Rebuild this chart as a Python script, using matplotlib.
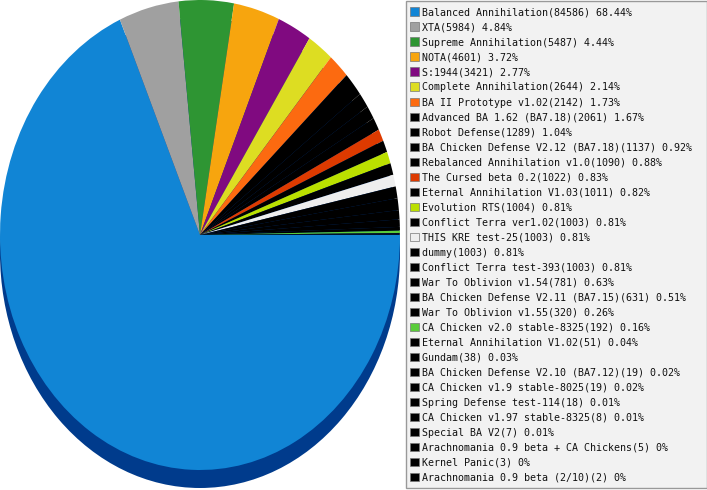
import matplotlib
matplotlib.use('Agg')
import matplotlib.pyplot as plt
from matplotlib.patches import Circle, Rectangle
from matplotlib.transforms import Affine2D

names = ['Balanced Annihilation', 'XTA', 'Supreme Annihilation', 'NOTA', 'S:1944',
         'Complete Annihilation', 'BA II Prototype v1.02', 'Advanced BA 1.62 (BA7.18)',
         'Robot Defense', 'BA Chicken Defense V2.12 (BA7.18)', 'Rebalanced Annihilation v1.0',
         'The Cursed beta 0.2', 'Eternal Annihilation V1.03', 'Evolution RTS',
         'Conflict Terra ver1.02', 'THIS KRE test-25', 'dummy', 'Conflict Terra test-393',
         'War To Oblivion v1.54', 'BA Chicken Defense V2.11 (BA7.15)', 'War To Oblivion v1.55',
         'CA Chicken v2.0 stable-8325', 'Eternal Annihilation V1.02', 'Gundam',
         'BA Chicken Defense V2.10 (BA7.12)', 'CA Chicken v1.9 stable-8025',
         'Spring Defense test-114', 'CA Chicken v1.97 stable-8325', 'Special BA V2',
         'Arachnomania 0.9 beta + CA Chickens', 'Kernel Panic', 'Arachnomania 0.9 beta (2/10)']
counts = [84586, 5984, 5487, 4601, 3421, 2644, 2142, 2061, 1289, 1137, 1090, 1022, 1011,
          1004, 1003, 1003, 1003, 1003, 781, 631, 320, 192, 51, 38, 19, 19, 18, 8, 7, 5, 3, 2]
colors = ['#1185d5', '#a0a0a0', '#2e9533', '#f7a50e', '#800a80', '#dddd22', '#fc6a10',
          '#000000', '#000000', '#000000', '#000000', '#dd3a00', '#000000', '#bbe000',
          '#000000', '#eeeeee', '#000000', '#000000', '#000000', '#000000', '#000000',
          '#5acc3a', '#000000', '#000000', '#000000', '#000000', '#000000', '#000000',
          '#000000', '#000000', '#000000', '#000000']

total = sum(counts)


def pct_text(c):
    s = '%.2f' % (100.0 * c / total)
    if s == '0.00':
        s = '0'
    return s + '%'


W, H = 707, 490
fig = plt.figure(figsize=(W / 100, H / 100), dpi=100)

# pie area: 400px wide, ellipse rx=200, ry=235, centre 235px from top
ax = fig.add_axes([0, 0, 400 / W, 1])
# dark rim under the pie (3d look)
ax.add_patch(Circle((0, -18 / 235), 1, facecolor='#003b8c', edgecolor='none', zorder=0))
wedges, _ = ax.pie(counts, colors=colors, startangle=0, counterclock=False,
                   wedgeprops=dict(linewidth=0, antialiased=True))
ax.set_aspect('auto')
ax.set_xlim(-1, 1)
ax.set_ylim(-255 / 235, 1.0)
ax.axis('off')

# legend box, drawn in pixel coords (origin top-left)
px = Affine2D().scale(1 / W, -1 / H).translate(0, 1) + fig.transFigure
fig.patches.append(Rectangle((405.5, 1), 301, 487, transform=px, facecolor='#f2f2f2',
                             edgecolor='#999999', linewidth=1))
for i, (n, c, col) in enumerate(zip(names, counts, colors)):
    y = 12 + 15 * i
    fig.patches.append(Rectangle((410, y - 4.5), 8.5, 8.5, transform=px, facecolor=col,
                                 edgecolor='#777777', linewidth=0.5))
    fig.text(422, y + 0.5, '%s(%d) %s' % (n, c, pct_text(c)), transform=px,
             family='DejaVu Sans Mono', fontsize=7.2, color='#111111', va='center', ha='left')

fig.savefig('out.png', dpi=100, facecolor='white')
